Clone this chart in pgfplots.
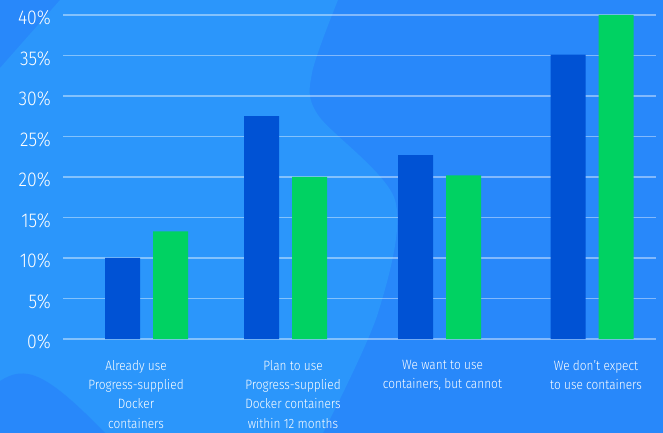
\documentclass[border=0pt]{standalone}
\usepackage{fontspec}
\setmainfont{Fira Sans}[UprightFont={* Light}, FakeStretch=0.88]
\usepackage{pgfplots}
\pgfplotsset{compat=1.18}
\definecolor{bgdark}{RGB}{40,136,250}
\definecolor{bglight}{RGB}{43,150,251}
\definecolor{barblue}{RGB}{0,82,212}
\definecolor{bargreen}{RGB}{0,210,98}
\begin{document}
\begin{tikzpicture}
% background shapes
\begin{scope}[x=1pt,y=1pt]
\fill[bgdark] (0,0) rectangle (663,433);
\fill[bglight] (60,433) -- (338,433)
  -- plot[smooth] coordinates {(338,433) (312,360) (318,318) (395,233) (378,120) (323,0)}
  -- (0,0) -- (0,365) -- cycle;
\fill[bgdark] (0,52) .. controls (25,68) and (45,62) .. (105,0) -- (0,0) -- cycle;
\end{scope}

\begin{axis}[
    at={(63pt,94pt)}, anchor=south west,
    scale only axis, width=593pt, height=324pt,
    xmin=63, xmax=656, ymin=0, ymax=40,
    clip=false,
    axis line style={draw=none},
    tick style={draw=none},
    major tick length=0pt,
    ytick={0,5,...,40},
    ymajorgrids,
    major grid style={white, opacity=0.42, line width=1.3pt},
    /pgf/number format/assume math mode=true,
    yticklabel={\pgfmathprintnumber{\tick}\%},
    yticklabel style={font=\fontsize{20}{20}\selectfont, text=white,
        anchor=east, inner sep=0pt, xshift=-12pt, yshift=-3pt},
    xtick={136,293,442.5,596},
    xticklabels={{Already use\\Progress-supplied\\Docker\\containers},
                 {Plan to use\\Progress-supplied\\Docker containers\\within 12 months},
                 {We want to use\\containers, but cannot},
                 {We don’t expect\\to use containers}},
    xticklabel style={align=center, font=\fontsize{13.5}{19.3}\selectfont,
        text=white, anchor=north, inner sep=0pt, yshift=-21pt},
    ybar, bar width=35,
]
\addplot[fill=barblue, draw=none, bar shift=-24]
    coordinates {(146.5,10.0) (285.5,27.5) (439.5,22.7) (592,35.1)};
\addplot[fill=bargreen, draw=none, bar shift=24]
    coordinates {(146.5,13.3) (285.5,20.0) (439.5,20.2) (592,40.0)};
\end{axis}
\pgfresetboundingbox
\path[use as bounding box] (0pt,0pt) rectangle (663pt,433pt);
\end{tikzpicture}
\end{document}
